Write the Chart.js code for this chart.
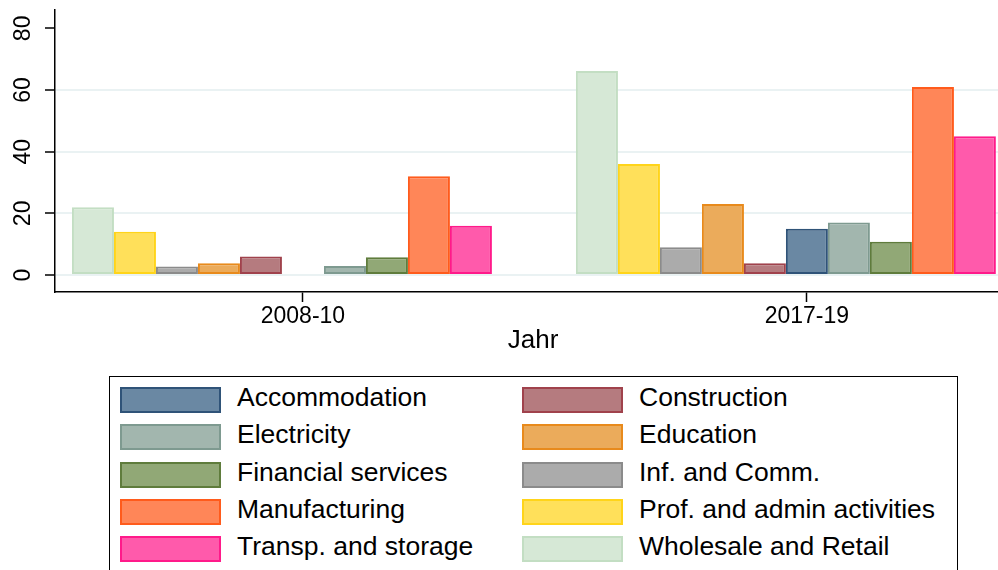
<!DOCTYPE html>
<html>
<head>
<meta charset="utf-8">
<script src="https://cdn.jsdelivr.net/npm/chart.js@4.4.1/dist/chart.umd.min.js"></script>
<style>
  html, body { margin: 0; padding: 0; overflow: hidden; background: #fff; }
  #page { position: relative; width: 998px; height: 570px; overflow: hidden;
          font-family: "Liberation Sans", Arial, sans-serif; }
  #chart { position: absolute; left: 0; top: 0; }
  #legendBox { position: absolute; left: 109px; top: 376px; width: 849px; height: 220px;
               border: 1.5px solid #000; box-sizing: border-box; }
  .swatch { position: absolute; width: 101px; height: 26px; border: 2px solid; box-sizing: border-box; }
  .label { position: absolute; font-size: 26.5px; line-height: 30px; white-space: nowrap; color: #000; }
</style>
</head>
<body>
<div id="page">
  <canvas id="chart" width="1011" height="360"></canvas>
  <div id="legendBox"></div>
  <div id="legend"></div>
</div>
<script>
const periods = ['2008-10', '2017-19'];

// bar order inside each group
const sectors = ['Wholesale and Retail', 'Prof. and admin activities', 'Inf. and Comm.', 'Education',
  'Construction', 'Accommodation', 'Electricity', 'Financial services', 'Manufacturing', 'Transp. and storage'];
const values2008 = [22, 14, 2.8, 3.8, 6, null, 2.9, 5.8, 32, 16];
const values2017 = [66.2, 36, 9, 23, 3.8, 15, 17, 10.8, 61, 45];

const fills = ['#d6e8d6', '#ffe05a', '#ababab', '#ebab5b', '#b57b7f',
  '#6a88a3', '#a2b6ae', '#91a876', '#ff8658', '#ff5aab'];
const borders = ['#c3dec3', '#ffd41a', '#8b8b8b', '#e88a1c', '#a0424c',
  '#2f5378', '#7e9a90', '#5f7c3c', '#ff5b1c', '#ff1a8a'];

const legendOrder = ['Accommodation', 'Construction', 'Electricity', 'Education', 'Financial services',
  'Inf. and Comm.', 'Manufacturing', 'Prof. and admin activities', 'Transp. and storage', 'Wholesale and Retail'];

const yTicks = [0, 20, 40, 60, 80];

Chart.defaults.font.family = '"Liberation Sans", Arial, sans-serif';
Chart.defaults.color = '#000';

const datasets = sectors.map((name, i) => ({
  label: name,
  data: [values2008[i], values2017[i]],
  backgroundColor: fills[i],
  borderColor: borders[i],
  borderWidth: 2,
  borderSkipped: false
}));
// empty slot that closes each group
datasets.push({ label: '', data: [null, null] });

new Chart(document.getElementById('chart'), {
  type: 'bar',
  data: { labels: periods.map((_, i) => i), datasets },
  options: {
    responsive: false,
    animation: false,
    categoryPercentage: 11 / 12,
    barPercentage: 1,
    layout: { padding: { top: 10, left: 0, right: 0, bottom: 0 } },
    plugins: { legend: { display: false }, tooltip: { enabled: false } },
    scales: {
      x: {
        type: 'linear',
        bounds: 'data',
        offset: false,
        min: -0.492,
        max: 1.405,
        afterBuildTicks: s => { s.ticks = periods.map((_, i) => ({ value: i })); },
        afterFit: s => { s.height = 68; s.paddingLeft = 0; s.paddingRight = 0; },
        grid: { offset: false, drawOnChartArea: false, drawTicks: true, tickLength: 10, tickColor: '#000', tickWidth: 1.5 },
        border: { display: true, color: '#000', width: 1.5 },
        ticks: {
          autoSkip: false,
          maxRotation: 0,
          padding: 1,
          font: { size: 23 },
          callback: v => periods[v]
        },
        title: { display: true, text: 'Jahr', font: { size: 26 }, padding: { top: 0, bottom: 4 } }
      },
      y: {
        bounds: 'data',
        min: -5.51,
        max: 85.95,
        afterBuildTicks: s => { s.ticks = yTicks.map(v => ({ value: v })); },
        afterFit: s => { s.width = 55; s.paddingTop = 0; s.paddingBottom = 0; },
        grid: {
          color: ctx => ctx.tick && ctx.tick.value === 80 ? 'rgba(0,0,0,0)' : '#eaf2f3',
          lineWidth: 2,
          drawTicks: true,
          tickLength: 10,
          tickColor: '#000',
          tickWidth: 1.5
        },
        border: { display: true, color: '#000', width: 1.5 },
        ticks: {
          autoSkip: false,
          minRotation: 90,
          maxRotation: 90,
          crossAlign: 'center',
          padding: 9,
          font: { size: 23 }
        }
      }
    }
  }
});

// legend: two columns, box drawn separately
const legend = document.getElementById('legend');
legendOrder.forEach((name, k) => {
  const i = sectors.indexOf(name);
  const col = k % 2, row = Math.floor(k / 2);
  const sw = document.createElement('div');
  sw.className = 'swatch';
  sw.style.left = (col ? 522 : 120) + 'px';
  sw.style.top = (387 + row * 37.25) + 'px';
  sw.style.background = fills[i];
  sw.style.borderColor = borders[i];
  const lb = document.createElement('div');
  lb.className = 'label';
  lb.style.left = (col ? 639 : 237) + 'px';
  lb.style.top = (382 + row * 37.25) + 'px';
  lb.textContent = name;
  legend.append(sw, lb);
});
</script>
</body>
</html>
